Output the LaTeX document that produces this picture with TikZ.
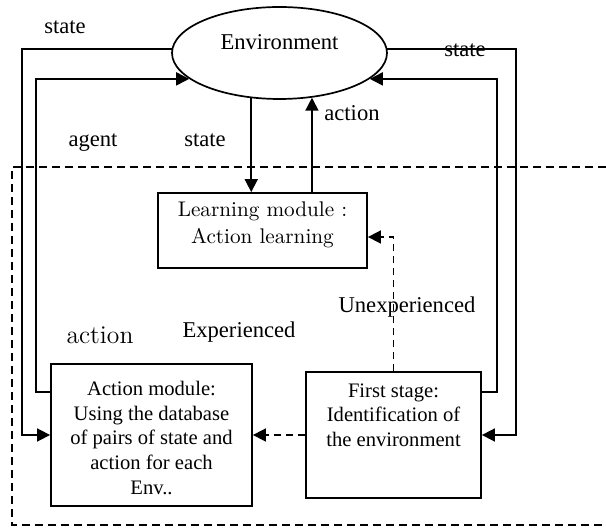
\documentclass[tikz,border=0pt]{standalone}
\usepackage{fontspec}
\newfontfamily\timesfont{Liberation Serif}
\usetikzlibrary{arrows.meta,calc,positioning,shapes.geometric}

\begin{document}
\begin{tikzpicture}[
    x=0.5pt, y=-0.5pt,
    link/.style={line width=0.85pt, -{Triangle[length=6.5pt, width=6.5pt]}},
    dlink/.style={link, dash pattern=on 3.5pt off 2.5pt},
    wire/.style={line width=0.85pt},
    envshape/.style={draw, ellipse, line width=0.85pt, minimum width=107.5pt,
                     minimum height=46pt, inner sep=0pt},
    module/.style={draw, line width=0.9pt, inner sep=0pt},
    boxtext/.style={font=\timesfont\fontsize{10.3}{12.3}\selectfont,
                    align=center, inner sep=0pt, anchor=north},
    lmtext/.style={font=\fontsize{10.6}{13.5}\selectfont,
                   align=center, inner sep=0pt, anchor=north},
    lbl/.style={font=\timesfont\fontsize{11.3}{13}\selectfont, inner sep=0pt},
]

\useasboundingbox (0,0) rectangle (606,528);

% Agent boundary (open on the right)
\draw[wire, dash pattern=on 4pt off 2.5pt] (606,167) -- (12,167) -- (12,525) -- (606,525);

% Environment
\node[envshape] (env) at (279.5,53) {};
\node[lbl] (envtext) at (279.5,42) {Environment};

% Modules
\node[module, minimum width=104.5pt, minimum height=37.5pt] (learn) at (262.5,230.5) {};
\node[lmtext] (learntext) at ($(learn.north)+(0,9)$) {Learning module\ :\\Action learning};

\node[module, minimum width=100.5pt, minimum height=71pt] (act) at (151.5,435) {};
\node[boxtext] (acttext) at ($(act.north)+(0,18)$)
    {Action module:\\Using the database\\of pairs of state and\\action for each\\Env..};

\node[module, minimum width=87.5pt, minimum height=63pt] (first) at (393.5,435) {};
\node[boxtext] (firsttext) at ($(first.north)+(0,12)$)
    {First stage:\\Identification of\\the environment};

% Loop corners
\coordinate (Lout) at (22,435);
\coordinate (Lin) at (36,392);
\coordinate (Rout) at (516,435);
\coordinate (Rin) at (497,392);

% Left loops
\draw[link] (env.178) -| (Lout) -- (act.west);
\draw[link] (Lin -| act.west) -- (Lin) |- (env.196);

% Right loops
\draw[link] (env.2) -| (Rout) -- (first.east);
\draw[link] (Rin -| first.east) -- (Rin) |- (env.344);

% Environment <-> learning module
\draw[link] (env.238) -- (env.238 |- learn.north);
\draw[link] (env.306 |- learn.north) -- (env.306);

% Dashed paths from first stage
\draw[dlink] (first.north) |- ($(learn.east)+(0,6.5)$);
\draw[dlink] (first.west) -- (act.east);

% Labels
\node[lbl] (s1) at (65,27) {state};
\node[lbl] (s2) at (465,50) {state};
\node[lbl] (s3) at (205,140) {state};
\node[lbl] (a1) at (352,113) {action};
\node[lbl] (ag) at (93,143) {agent};
\node[lbl] (unexp) at (407,307) {Unexperienced};
\node[lbl] (exp) at (239,332) {Experienced};
\node[font=\fontsize{12.8}{15}\selectfont, inner sep=0pt] (a2) at (100,335) {action};

\end{tikzpicture}
\end{document}
